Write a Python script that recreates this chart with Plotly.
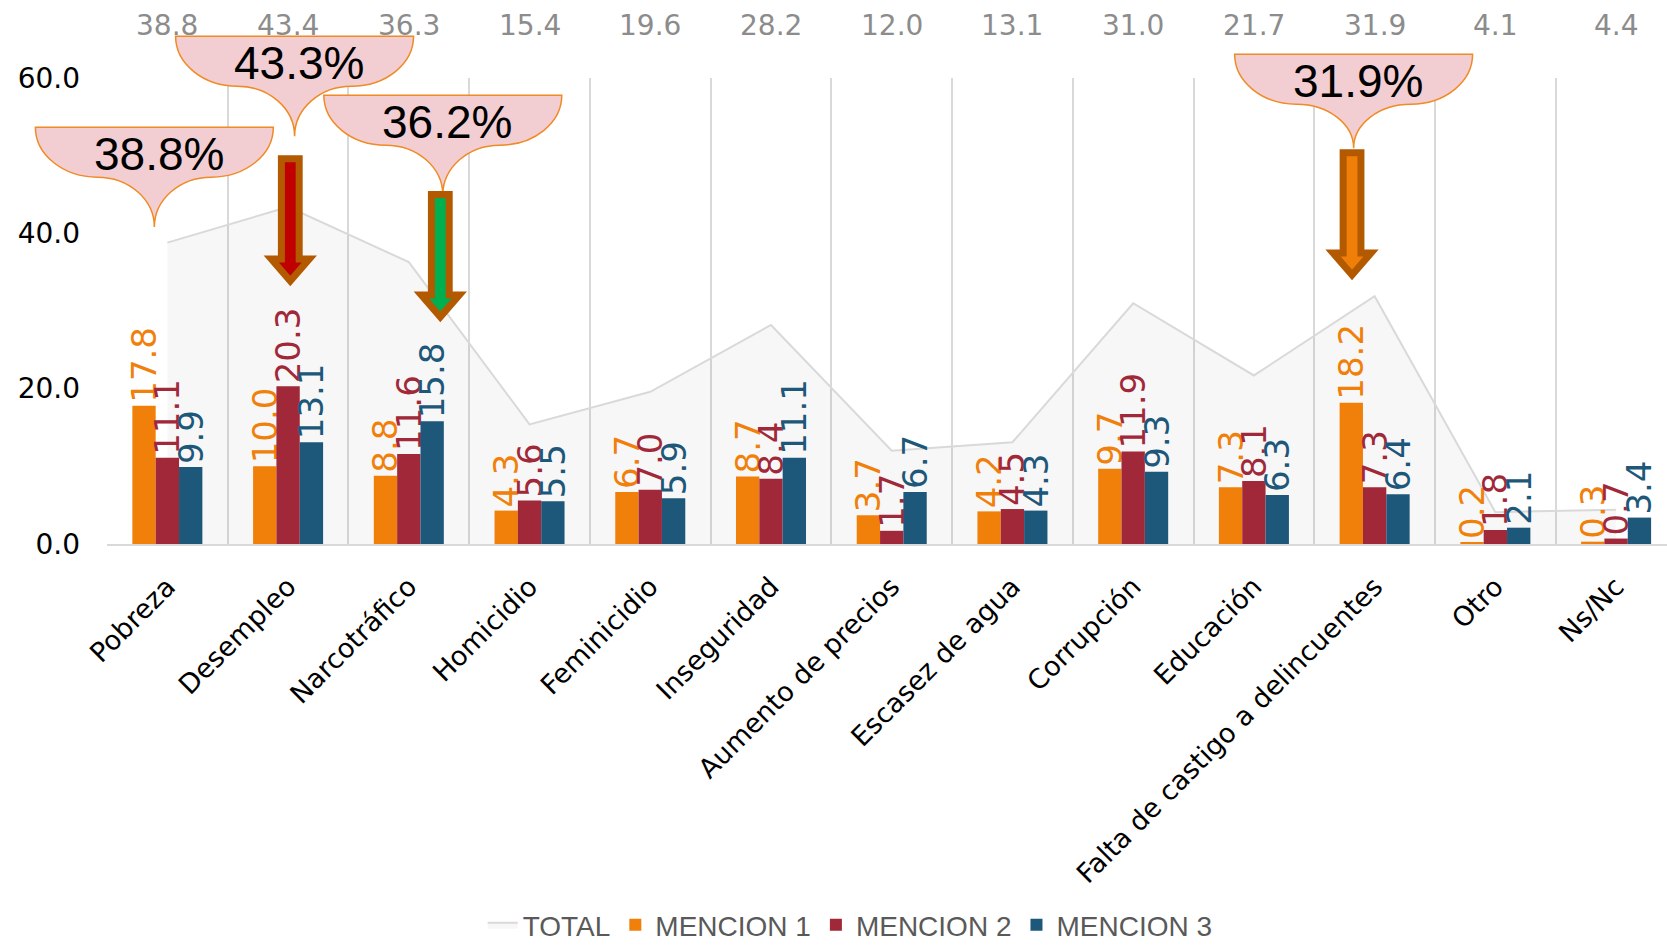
import plotly.graph_objects as go

# ---- data -------------------------------------------------------------
categories = [
    "Pobreza", "Desempleo", "Narcotráfico", "Homicidio", "Feminicidio",
    "Inseguridad", "Aumento de precios", "Escasez de agua", "Corrupción",
    "Educación", "Falta de castigo a delincuentes", "Otro", "Ns/Nc",
]
total = [38.8, 43.4, 36.3, 15.4, 19.6, 28.2, 12.0, 13.1, 31.0, 21.7, 31.9, 4.1, 4.4]
mencion_1 = [17.8, 10.0, 8.8, 4.3, 6.7, 8.7, 3.7, 4.2, 9.7, 7.3, 18.2, 0.2, 0.3]
mencion_2 = [11.1, 20.3, 11.6, 5.6, 7.0, 8.4, 1.7, 4.5, 11.9, 8.1, 7.3, 1.8, 0.7]
mencion_3 = [9.9, 13.1, 15.8, 5.5, 5.9, 11.1, 6.7, 4.3, 9.3, 6.3, 6.4, 2.1, 3.4]
y_ticks = [0, 20, 40, 60]

callout_labels = ["38.8%", "43.3%", "36.2%", "31.9%"]
callout_categories = [0, 1, 2, 10]
arrow_categories = [1, 2, 10]

# ---- layout geometry (pixels) -----------------------------------------
FIG_W, FIG_H = 1667, 950
PLOT_L, PLOT_T, PLOT_B = 106.7, 77.7, 544.5
PLOT_W = FIG_W - PLOT_L
PLOT_H = PLOT_B - PLOT_T
CAT_W = 120.75
x_max = -0.5 + PLOT_W / CAT_W

C_ORANGE = "#F0800A"
C_RED = "#A12838"
C_BLUE = "#1D5779"
NUM_FONT = "DejaVu Sans"
LABEL_FONT = "Liberation Sans Narrow, DejaVu Sans"


def px_x(px):
    return (px - PLOT_L) / PLOT_W


def px_y(py):
    return (PLOT_B - py) / PLOT_H


def cat_px(i):
    return PLOT_L + (i + 0.5) * CAT_W


def fmt(x, y):
    return f"{px_x(x):.5f},{px_y(y):.5f}"


def callout_path(tx, top, depth, half=119, arc_w=62, bulge=50):
    k = 0.552
    left, right = tx - half, tx + half
    b = top + bulge
    tip = top + depth
    tail = tx - (left + arc_w)
    return (
        f"M{fmt(left, top)}"
        f" C{fmt(left, top + k * bulge)} {fmt(left + (1 - k) * arc_w, b)} {fmt(left + arc_w, b)}"
        f" C{fmt(left + arc_w + k * tail, b)} {fmt(tx, tip - k * (tip - b))} {fmt(tx, tip)}"
        f" C{fmt(tx, tip - k * (tip - b))} {fmt(right - arc_w - k * tail, b)} {fmt(right - arc_w, b)}"
        f" C{fmt(right - (1 - k) * arc_w, b)} {fmt(right, top + k * bulge)} {fmt(right, top)} Z"
    )


def arrow_path(cx, top, length=131, hs=8.9, hh=19.0, head=22.0):
    t = top + 3.5
    tip = top + length - 5
    hb = tip - head
    pts = [(cx - hs, t), (cx + hs, t), (cx + hs, hb), (cx + hh, hb),
           (cx, tip), (cx - hh, hb), (cx - hs, hb)]
    return "M" + " L".join(fmt(x, y) for x, y in pts) + " Z"


xs = list(range(len(categories)))

fig = go.Figure()

# TOTAL as a light area behind the bars
fig.add_trace(go.Scatter(
    x=xs, y=total, name="TOTAL", mode="lines",
    line=dict(color="#D9D9D9", width=2),
    fill="tozeroy", fillcolor="rgba(0,0,0,0.03)",
    hoverinfo="skip",
))

for vals, name, color in [
    (mencion_1, "MENCION 1", C_ORANGE),
    (mencion_2, "MENCION 2", C_RED),
    (mencion_3, "MENCION 3", C_BLUE),
]:
    fig.add_trace(go.Bar(
        x=xs, y=vals, name=name, yaxis="y2",
        marker=dict(color=color, line=dict(width=0)),
        text=[f"{v:.1f}" for v in vals],
        textposition="outside", textangle=-90,
        textfont=dict(family=LABEL_FONT, size=34, color=color),
        constraintext="none", cliponaxis=False,
    ))

annotations = []
# TOTAL values along the top
for i, v in enumerate(total):
    annotations.append(dict(
        x=i, xref="x", y=px_y(25.5), yref="paper",
        text=f"{v:.1f}", showarrow=False,
        font=dict(family=NUM_FONT, size=28, color="#8C8C8C"),
        xanchor="center", yanchor="middle",
    ))

shapes = []
callout_style = [(-13, 127, 100), (6.5, 36, 100), (34, 95, 100), (-21, 54, 94)]
for label, ci, (dx, top, depth) in zip(callout_labels, callout_categories, callout_style):
    tx = cat_px(ci) + dx
    shapes.append(dict(
        type="path", xref="paper", yref="paper",
        path=callout_path(tx, top, depth),
        fillcolor="#F2CED3", line=dict(color="#F08A24", width=1.5),
        layer="above",
    ))
    annotations.append(dict(
        x=px_x(tx + 4.5), xref="paper", y=px_y(top + 27), yref="paper",
        text=label, showarrow=False,
        font=dict(family="Liberation Sans", size=46, color="#000000"),
        xanchor="center", yanchor="middle",
    ))

arrow_style = [(2.2, 155, "#C00000"), (31.5, 191, "#00B050"), (-22.6, 149, "#F07F09")]
for ci, (dx, top, fill) in zip(arrow_categories, arrow_style):
    shapes.append(dict(
        type="path", xref="paper", yref="paper",
        path=arrow_path(cat_px(ci) + dx, top),
        fillcolor=fill, line=dict(color="#B35900", width=7),
        layer="above",
    ))

fig.update_layout(
    width=FIG_W, height=FIG_H, autosize=False,
    margin=dict(l=PLOT_L, r=0, t=PLOT_T, b=FIG_H - PLOT_B, pad=0),
    paper_bgcolor="white", plot_bgcolor="white",
    barmode="group", bargap=0.42, bargroupgap=0,
    showlegend=True,
    legend=dict(
        orientation="h", xref="paper", x=px_x(850), xanchor="center",
        yref="container", y=0.0, yanchor="bottom",
        font=dict(family="Liberation Sans", size=28, color="#595959"),
        bgcolor="rgba(0,0,0,0)", traceorder="normal",
    ),
    xaxis=dict(
        type="linear", range=[-0.5, x_max],
        tickmode="array", tickvals=xs, ticktext=categories,
        tickangle=-45, ticks="", ticklabelstandoff=14,
        tickfont=dict(family="DejaVu Sans", size=27, color="#000000"),
        showgrid=False, zeroline=False, automargin=False,
        showline=True, linecolor="#D9D9D9", linewidth=2,
        minor=dict(tickmode="array", tickvals=[k - 0.5 for k in range(len(categories) + 1)],
                   showgrid=True, gridcolor="#D9D9D9", gridwidth=1.5, ticks=""),
    ),
    yaxis=dict(
        range=[0, 60], tickmode="array", tickvals=y_ticks, tickformat=".1f",
        tickfont=dict(family=NUM_FONT, size=28, color="#000000"),
        showgrid=False, zeroline=False, showline=False, ticks="",
        ticklabelstandoff=26, automargin=False,
    ),
    yaxis2=dict(
        range=[0, 60], overlaying="y", visible=False,
        showgrid=False, zeroline=False,
    ),
    annotations=annotations,
    shapes=shapes,
)

fig.write_html("out.html")
